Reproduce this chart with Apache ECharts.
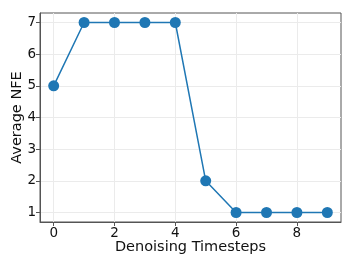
<!DOCTYPE html>
<html><head><meta charset="utf-8">
<script src="https://cdn.jsdelivr.net/npm/echarts@6/dist/echarts.min.js"></script>
<style>html,body{margin:0;padding:0;background:#fff}#c{width:354px;height:265px}</style>
</head><body><div id="c"></div>
<script>
const timesteps = [0,1,2,3,4,5,6,7,8,9];
const avgNFE = [5,7,7,7,7,2,1,1,1,1];
const xTicks = [0,2,4,6,8];
const yTicks = [1,2,3,4,5,6,7];
const xName = 'Denoising Timesteps';
const yName = 'Average NFE';

const font = 'DejaVu Sans';
const axisCol = '#555';
const chart = echarts.init(document.getElementById('c'), null, {renderer:'canvas'});
chart.setOption({
  animation:false,
  grid:{left:40,right:13,top:13,bottom:43,show:true,borderColor:axisCol,borderWidth:1,containLabel:false,outerBoundsMode:'none'},
  xAxis:{type:'value',min:-0.45,max:9.45,
    name:xName,nameLocation:'middle',nameGap:18,nameMoveOverlap:false,
    nameTextStyle:{fontFamily:font,fontSize:14.5,color:'#111'},
    axisLine:{show:true,onZero:false,lineStyle:{color:axisCol}},
    axisTick:{show:true,length:4,lineStyle:{color:axisCol},customValues:xTicks},
    axisLabel:{fontFamily:font,fontSize:13.5,color:'#111',margin:4,customValues:xTicks},
    splitLine:{show:true,lineStyle:{color:'#ebebeb',width:1},customValues:xTicks}},
  yAxis:{type:'value',min:0.7,max:7.3,
    name:yName,nameLocation:'middle',nameGap:15,nameMoveOverlap:false,
    nameTextStyle:{fontFamily:font,fontSize:14.5,color:'#111'},
    axisLine:{show:true,onZero:false,lineStyle:{color:axisCol}},
    axisTick:{show:true,length:4,lineStyle:{color:axisCol},customValues:yTicks},
    axisLabel:{fontFamily:font,fontSize:13.5,color:'#111',margin:4,customValues:yTicks},
    splitLine:{show:true,lineStyle:{color:'#ebebeb',width:1},customValues:yTicks}},
  series:[{type:'line',data:timesteps.map((t,i)=>[t,avgNFE[i]]),
    symbol:'circle',symbolSize:11,
    lineStyle:{color:'#1f77b4',width:1.5},
    itemStyle:{color:'#1f77b4'}}]
});
</script></body></html>
